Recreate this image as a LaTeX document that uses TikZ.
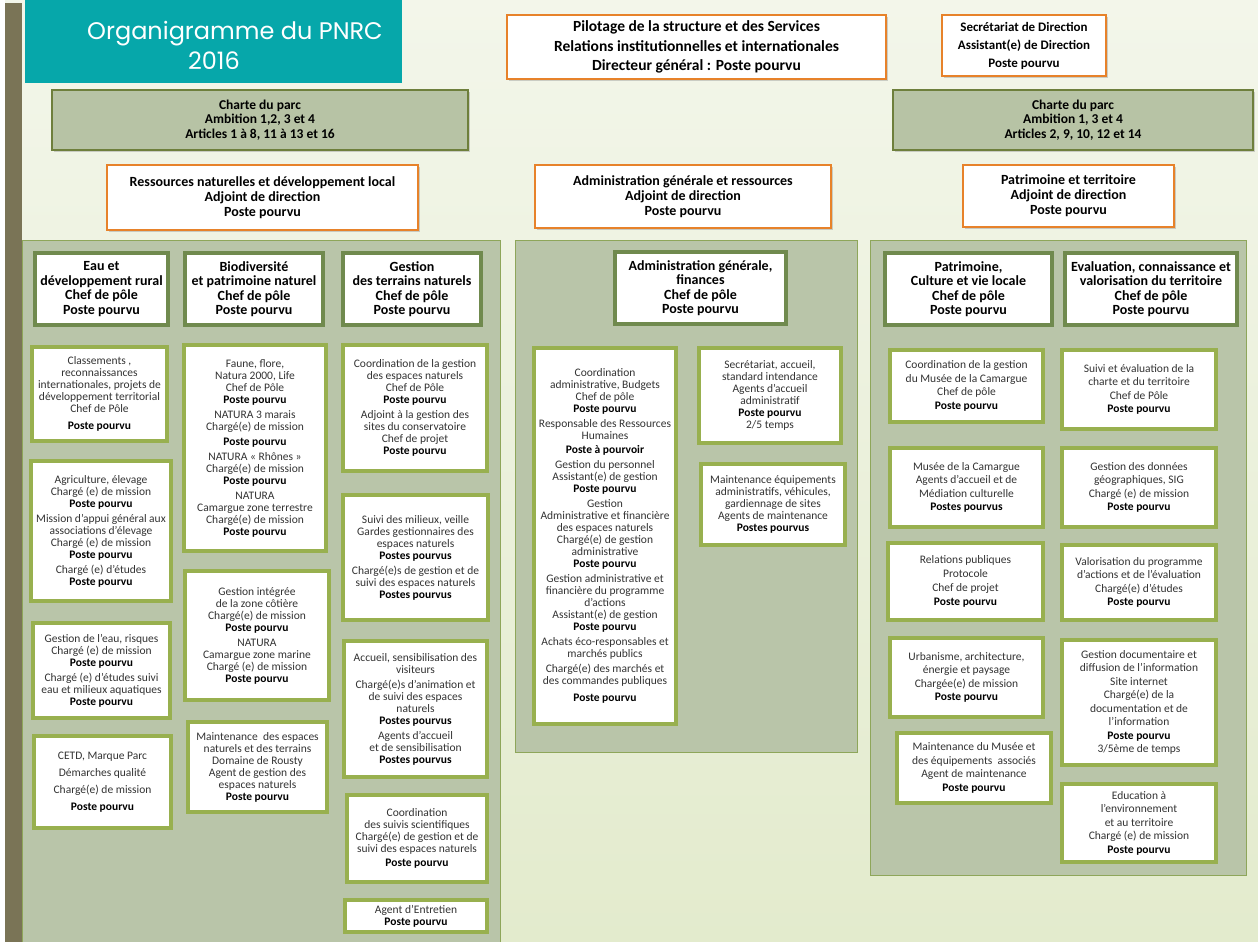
\documentclass[tikz,border=0pt]{standalone}
\usepackage{fontspec}
\setmainfont{Carlito}
\newfontfamily\titlefont{Poppins}
\usetikzlibrary{shadows}
\definecolor{tealC}{HTML}{06A7AA}
\definecolor{orangeC}{HTML}{E7822A}
\definecolor{charteF}{HTML}{B7C3A5}
\definecolor{charteB}{HTML}{6E7F3C}
\definecolor{panelF}{HTML}{B9C5A9}
\definecolor{panelB}{HTML}{8EA65A}
\definecolor{chefB}{HTML}{708A4E}
\definecolor{subB}{HTML}{98B04F}
\definecolor{stripC}{HTML}{7A7456}
\definecolor{bgA}{HTML}{F3F6EA}
\definecolor{bgB}{HTML}{E3EBCD}
\definecolor{txtC}{HTML}{333333}
\newcommand{\pp}{{\color{black}\bfseries Poste pourvu}}
\newcommand{\pps}{{\color{black}\bfseries Postes pourvus}}
% \bx{style}{name}{x1}{y1}{x2}{y2}{text}
\newcommand{\bx}[7]{\node[#1, minimum width={#5-#3}, minimum height={#6-#4}] (#2) at ({(#3+#5)/2},{(#4+#6)/2}) {#7};}
\tikzset{
  base/.style={inner sep=0pt, align=center, text=txtC, font=\fontsize{11.5}{12}\selectfont},
  shad/.style={drop shadow={opacity=0.35, shadow xshift=2pt, shadow yshift=-2pt}},
  orangebox/.style={base, shad, draw=orangeC, line width=2pt, fill=white, text=black},
  chartebox/.style={base, shad, draw=charteB, line width=2pt, fill=charteF, text=black, font=\bfseries\fontsize{13.5}{14.5}\selectfont},
  chefbox/.style={base, shad, draw=chefB, line width=4.5pt, fill=white, text=black, font=\bfseries\fontsize{14}{14.5}\selectfont},
  subbox/.style={base, shad, draw=subB, line width=4pt, fill=white},
  subboxr/.style={subbox, font=\fontsize{11.5}{13.5}\selectfont},
  panel/.style={draw=panelB, line width=1pt, fill=panelF, inner sep=0pt},
}
\begin{document}
\begin{tikzpicture}[x=1pt,y=-1pt]
\useasboundingbox (0,0) rectangle (1258,942);
% background
\shade[top color=bgA, bottom color=bgB] (0,0) rectangle (1258,942);
\fill[white] (0,0) rectangle (5,942);
\fill[stripC] (5,3) rectangle (22,942);
% title
\bx{fill=tealC, inner sep=0pt}{title}{25}{0}{402}{83}{}
\node[text=white, font=\titlefont\fontsize{24}{30}\selectfont, anchor=base] (t1) at (235,40) {Organigramme du PNRC};
\node[text=white, font=\titlefont\fontsize{24}{30}\selectfont, anchor=base] (t2) at (214,70) {2016};
% top boxes
\bx{orangebox, font=\bfseries\fontsize{15.5}{19.5}\selectfont}{dir}{507}{15}{886}{79}{Pilotage de la structure et des Services\\Relations institutionnelles et internationales\\Directeur général : Poste pourvu}
\bx{orangebox, font=\bfseries\fontsize{13}{18}\selectfont}{sec}{942}{15}{1106}{76}{Secrétariat de Direction\\Assistant(e) de Direction\\Poste pourvu}
\bx{chartebox}{charteL}{52}{90}{468}{150}{Charte du parc\\Ambition 1,2, 3 et 4\\Articles 1 à 8, 11 à 13 et 16}
\bx{chartebox}{charteR}{893}{90}{1253}{150}{Charte du parc\\Ambition 1, 3 et 4\\Articles 2, 9, 10, 12 et 14}
\bx{orangebox, font=\bfseries\fontsize{14}{15}\selectfont}{adjL}{107}{165}{418}{230}{Ressources naturelles et développement local\\Adjoint de direction\\Poste pourvu}
\bx{orangebox, font=\bfseries\fontsize{14}{15}\selectfont}{adjM}{535}{165}{831}{228}{Administration générale et ressources\\Adjoint de direction\\Poste pourvu}
\bx{orangebox, font=\bfseries\fontsize{14}{15}\selectfont}{adjR}{963}{165}{1174}{227}{Patrimoine et territoire\\Adjoint de direction\\Poste pourvu}
% panels
\bx{panel}{panL}{22}{240}{500}{946}{}
\bx{panel}{panM}{515}{240}{857}{752}{}
\bx{panel}{panR}{870}{240}{1246}{875}{}
% chef boxes
\bx{chefbox}{cEau}{35}{253}{168}{325}{Eau et\\développement rural\\Chef de pôle\\Poste pourvu}
\bx{chefbox}{cBio}{185}{253}{323}{325}{Biodiversité\\et patrimoine naturel\\Chef de pôle\\Poste pourvu}
\bx{chefbox}{cGes}{343}{253}{481}{325}{Gestion\\des terrains naturels\\Chef de pôle\\Poste pourvu}
\bx{chefbox}{cAdm}{615}{252}{786}{324}{Administration générale,\\finances\\Chef de pôle\\Poste pourvu}
\bx{chefbox}{cPat}{885}{253}{1052}{325}{Patrimoine,\\Culture et vie locale\\Chef de pôle\\Poste pourvu}
\bx{chefbox}{cEva}{1065}{253}{1237}{325}{Evaluation, connaissance et\\valorisation du territoire\\Chef de pôle\\Poste pourvu}
% Eau column
\bx{subbox}{e1}{32}{347}{167}{441}{Classements ,\\reconnaissances\\internationales, projets de\\développement territorial\\Chef de Pôle\\[5pt]\pp}
\bx{subbox}{e2}{31}{461}{171}{601}{Agriculture, élevage\\Chargé (e) de mission\\\pp\\[3pt]Mission d’appui général aux\\associations d’élevage\\Chargé (e) de mission\\\pp\\[3pt]Chargé (e) d’études\\\pp}
\bx{subbox}{e3}{33}{623}{170}{718}{Gestion de l’eau, risques\\Chargé (e) de mission\\\pp\\[3pt]Chargé (e) d’études suivi\\eau et milieux aquatiques\\\pp}
\bx{subbox}{e4}{34}{736}{171}{828}{CETD, Marque Parc\\[5pt]Démarches qualité\\[5pt]Chargé(e) de mission\\[5pt]\pp}
% Biodiversite column
\bx{subbox}{b1}{184}{345}{326}{551}{Faune, flore,\\Natura 2000, Life\\Chef de Pôle\\\pp\\[3pt]NATURA 3 marais\\Chargé(e) de mission\\[3pt]\pp\\[3pt]NATURA « Rhônes »\\Chargé(e) de mission\\\pp\\[3pt]NATURA\\Camargue zone terrestre\\Chargé(e) de mission\\\pp}
\bx{subbox}{b2}{185}{571}{329}{700}{Gestion intégrée\\de la zone côtière\\Chargé(e) de mission\\\pp\\[3pt]NATURA\\Camargue zone marine\\Chargé (e) de mission\\\pp}
\bx{subbox}{b3}{188}{722}{327}{812}{Maintenance~~des espaces\\naturels et des terrains\\Domaine de Rousty\\Agent de gestion des\\espaces naturels\\\pp}
% Gestion column
\bx{subbox}{g1}{343}{345}{487}{471}{Coordination de la gestion\\des espaces naturels\\Chef de Pôle\\\pp\\[3pt]Adjoint à la gestion des\\sites du conservatoire\\Chef de projet\\\pp}
\bx{subbox}{g2}{343}{495}{488}{620}{Suivi des milieux, veille\\Gardes gestionnaires des\\espaces naturels\\\pps\\[3pt]Chargé(e)s de gestion et de\\suivi des espaces naturels\\\pps}
\bx{subbox}{g3}{344}{641}{487}{777}{Accueil, sensibilisation des\\visiteurs\\[3pt]Chargé(e)s d’animation et\\de suivi des espaces\\naturels\\\pps\\[3pt]Agents d’accueil\\et de sensibilisation\\\pps}
\bx{subbox}{g4}{347}{795}{487}{882}{Coordination\\des suivis scientifiques\\Chargé(e) de gestion et de\\suivi des espaces naturels\\[2pt]\pp}
\bx{subbox}{g5}{345}{900}{487}{932}{Agent d’Entretien\\\pp}
% Administration column
\bx{subbox}{a1}{534}{348}{676}{724}{Coordination\\administrative, Budgets\\Chef de pôle\\\pp\\[3pt]Responsable des Ressources\\Humaines\\[2pt]{\color{black}\bfseries Poste à pourvoir}\\[3pt]Gestion du personnel\\Assistant(e) de gestion\\\pp\\[3pt]Gestion\\Administrative et financière\\des espaces naturels\\Chargé(e) de gestion\\administrative\\\pp\\[3pt]Gestion administrative et\\financière du programme\\d’actions\\Assistant(e) de gestion\\\pp\\[3pt]Achats éco-responsables et\\marchés publics\\[3pt]Chargé(e) des marchés et\\des commandes publiques\\[5pt]\pp}
\bx{subbox}{a2}{699}{348}{841}{443}{Secrétariat, accueil,\\standard intendance\\Agents d’accueil\\administratif\\\pp\\2/5 temps}
\bx{subbox}{a3}{701}{464}{845}{545}{Maintenance équipements\\administratifs, véhicules,\\gardiennage de sites\\Agents de maintenance\\\pps}
% Patrimoine column
\bx{subboxr}{p1}{890}{350}{1043}{422}{Coordination de la gestion\\du Musée de la Camargue\\Chef de pôle\\\pp}
\bx{subboxr}{p2}{890}{448}{1043}{527}{Musée de la Camargue\\Agents d’accueil et de\\Médiation culturelle\\\pps}
\bx{subboxr, font=\fontsize{11.5}{14}\selectfont}{p3}{888}{543}{1043}{620}{Relations publiques\\Protocole\\Chef de projet\\\pp}
\bx{subboxr}{p4}{890}{638}{1043}{717}{Urbanisme, architecture,\\énergie et paysage\\Chargée(e) de mission\\\pp}
\bx{subboxr}{p5}{897}{733}{1051}{803}{Maintenance du Musée et\\des équipements~~associés\\Agent de maintenance\\\pp}
% Evaluation column
\bx{subboxr}{v1}{1062}{350}{1216}{429}{Suivi et évaluation de la\\charte et du territoire\\Chef de Pôle\\\pp}
\bx{subboxr}{v2}{1062}{448}{1216}{527}{Gestion des données\\géographiques, SIG\\Chargé (e) de mission\\\pp}
\bx{subboxr}{v3}{1062}{545}{1216}{620}{Valorisation du programme\\d’actions et de l’évaluation\\Chargé(e) d’études\\\pp}
\bx{subboxr}{v4}{1062}{640}{1216}{765}{Gestion documentaire et\\diffusion de l’information\\Site internet\\Chargé(e) de la\\documentation et de\\l’information\\\pp\\3/5ème de temps}
\bx{subboxr}{v5}{1062}{784}{1216}{862}{Education à\\l’environnement\\et au territoire\\Chargé (e) de mission\\\pp}
\end{tikzpicture}
\end{document}
